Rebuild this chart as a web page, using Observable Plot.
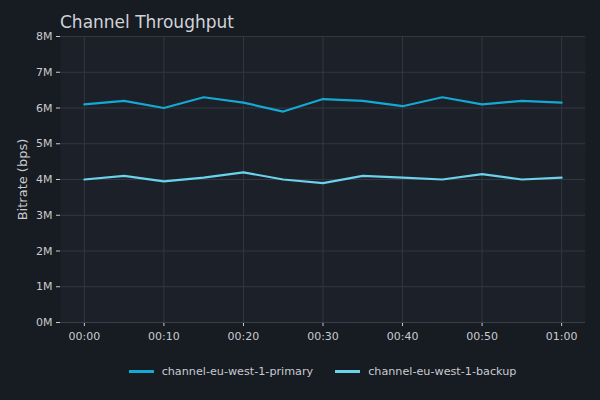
<!DOCTYPE html>
<html>
<head>
<meta charset="utf-8">
<script src="https://cdn.jsdelivr.net/npm/d3@7"></script>
<script src="https://cdn.jsdelivr.net/npm/@observablehq/plot@0.6"></script>
<style>
  html, body { margin: 0; padding: 0; background: #171b22; width: 600px; height: 400px; overflow: hidden; font-family: "DejaVu Sans", sans-serif; }
  #title { padding-left: 60px; color: #d0d3d8; font-size: 17px; line-height: 16px; padding-top: 14px; box-sizing: border-box; height: 26px; overflow: visible; white-space: nowrap; }
  #legend { display: flex; justify-content: center; gap: 22px; margin-top: 13px; padding-left: 60px; padding-right: 15px; color: #c8cbd0; font-size: 11.2px; }
  .item { display: flex; align-items: center; gap: 8px; }
  .sw { width: 25px; height: 3px; }
</style>
</head>
<body>
<div id="title">Channel Throughput</div>
<div id="chart"></div>
<div id="legend"></div>
<script>
const minutes = [0, 5, 10, 15, 20, 25, 30, 35, 40, 45, 50, 55, 60];
const primaryValues = [6.1, 6.2, 6.0, 6.3, 6.15, 5.9, 6.25, 6.2, 6.05, 6.3, 6.1, 6.2, 6.15];
const backupValues = [4.0, 4.1, 3.95, 4.05, 4.2, 4.0, 3.9, 4.1, 4.05, 4.0, 4.15, 4.0, 4.05];
const seriesNames = ["channel-eu-west-1-primary", "channel-eu-west-1-backup"];
const seriesColors = ["#14a9d5", "#6ad2ea"];
const xTicks = [0, 10, 20, 30, 40, 50, 60];
const yTicks = [0, 1, 2, 3, 4, 5, 6, 7, 8];

const rows = [];
minutes.forEach((m, i) => rows.push({t: m, v: primaryValues[i] * 1e6, s: seriesNames[0]}));
minutes.forEach((m, i) => rows.push({t: m, v: backupValues[i] * 1e6, s: seriesNames[1]}));

const fmtTime = m => `${String(Math.floor(m / 60)).padStart(2, "0")}:${String(m % 60).padStart(2, "0")}`;

const plot = Plot.plot({
  width: 600,
  height: 326,
  marginTop: 10,
  marginLeft: 60,
  marginRight: 15,
  marginBottom: 30,
  style: {background: "transparent", color: "#c8cbd0", fontSize: "11px", fontFamily: "DejaVu Sans, sans-serif"},
  x: {domain: [-3, 63], ticks: xTicks, tickFormat: fmtTime, label: null, tickSize: 4, tickPadding: 6},
  y: {domain: [0, 8e6], ticks: yTicks.map(d => d * 1e6), tickFormat: d => `${d / 1e6}M`, label: null, tickSize: 4, tickPadding: 4},
  color: {domain: seriesNames, range: seriesColors},
  marks: [
    Plot.frame({fill: "#1c2028", stroke: null}),
    Plot.gridX(xTicks, {stroke: "#33373f", strokeOpacity: 1, strokeWidth: 1}),
    Plot.gridY(yTicks.map(d => d * 1e6), {stroke: "#33373f", strokeOpacity: 1, strokeWidth: 1}),
    Plot.axisX(xTicks, {tickFormat: fmtTime, tickSize: 4, tickPadding: 6, stroke: "#c8cbd0", fill: "#c8cbd0", label: null}),
    Plot.axisY(yTicks.map(d => d * 1e6), {tickFormat: d => `${d / 1e6}M`, tickSize: 4, tickPadding: 4, stroke: "#c8cbd0", fill: "#c8cbd0", label: null}),
    Plot.ruleY([0], {stroke: "#3a3e46"}),
    Plot.line(rows, {x: "t", y: "v", z: "s", stroke: "s", strokeWidth: 2.2}),
    Plot.text(["Bitrate (bps)"], {frameAnchor: "left", textAnchor: "middle", dx: -38, rotate: -90, fill: "#c8cbd0", fontSize: 13})
  ]
});
document.getElementById("chart").appendChild(plot);

const legend = document.getElementById("legend");
seriesNames.forEach((n, i) => {
  const it = document.createElement("div");
  it.className = "item";
  const sw = document.createElement("div");
  sw.className = "sw";
  sw.style.background = seriesColors[i];
  const lb = document.createElement("span");
  lb.textContent = n;
  it.appendChild(sw);
  it.appendChild(lb);
  legend.appendChild(it);
});
</script>
</body>
</html>
